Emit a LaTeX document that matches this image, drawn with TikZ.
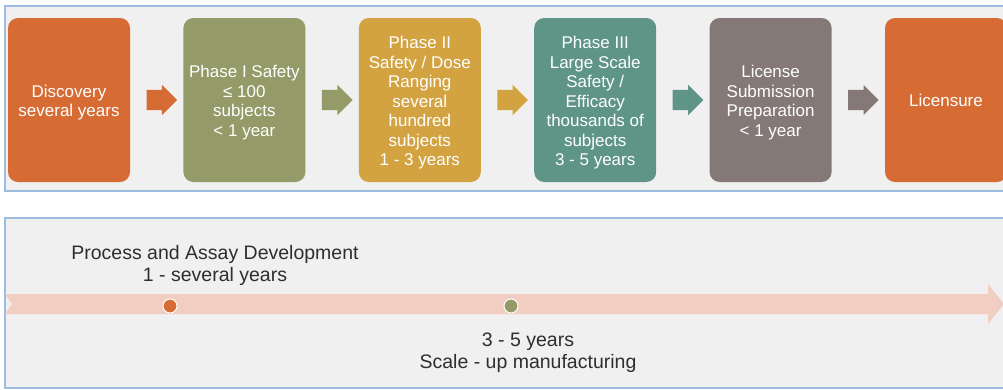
\documentclass[tikz,border=0pt]{standalone}
\usepackage{fontspec}
\setmainfont{Liberation Sans}
\usetikzlibrary{positioning,shapes.arrows,calc}

\definecolor{discovery}{HTML}{D66C33}
\definecolor{phaseone}{HTML}{949A68}
\definecolor{phasetwo}{HTML}{D3A342}
\definecolor{phasethree}{HTML}{5F9587}
\definecolor{license}{HTML}{847977}
\definecolor{panelgray}{HTML}{F0F0F0}
\definecolor{panelblue}{HTML}{9DBCE0}
\definecolor{band}{HTML}{F2CDC2}
\definecolor{notegray}{HTML}{2E2E2E}
\newcommand\phasestrut{\rule{0pt}{18pt}}

\begin{document}
\begin{tikzpicture}[x=1pt, y=-1pt, node distance=53pt,
  phase/.style={rectangle, rounded corners=10pt, minimum width=122pt, minimum height=164pt, inner sep=2pt, text=white, align=center, font=\fontsize{17}{19.5}\selectfont},
  flow/.style={single arrow, inner sep=10pt, single arrow head extend=5pt, minimum height=27pt},
  panel/.style={fill=panelgray, draw=panelblue, line width=1.5pt},
  dot/.style={circle, draw=white, line width=1pt, minimum size=14pt, inner sep=0pt},
  note/.style={text=notegray, align=center, font=\fontsize{19.5}{22}\selectfont}]
  \useasboundingbox (0,0) rectangle (1003,389);

  % panels
  \draw[panel] (5,6) rectangle (1012,191);
  \draw[panel] (5,218) rectangle (1012,388);

  % phases
  \node[phase, fill=discovery] (disc) at (69,100) {\phasestrut Discovery\\several years};
  \node[phase, fill=phaseone, right=of disc] (ph1) {\phasestrut Phase I Safety\\≤ 100\\subjects\\< 1 year};
  \node[phase, fill=phasetwo, right=of ph1] (ph2) {\phasestrut Phase II\\Safety / Dose\\Ranging\\several\\hundred\\subjects\\1 - 3 years};
  \node[phase, fill=phasethree, right=of ph2] (ph3) {\phasestrut Phase III\\Large Scale\\Safety /\\Efficacy\\thousands of\\subjects\\3 - 5 years};
  \node[phase, fill=license, right=of ph3] (lic) {\phasestrut License\\Submission\\Preparation\\< 1 year};
  \node[phase, fill=discovery, right=of lic] (licn) {Licensure};

  \node[flow, fill=discovery] (a1) at ($(disc.east)!0.5!(ph1.west)$) {};
  \node[flow, fill=phaseone] (a2) at ($(ph1.east)!0.5!(ph2.west)$) {};
  \node[flow, fill=phasetwo] (a3) at ($(ph2.east)!0.5!(ph3.west)$) {};
  \node[flow, fill=phasethree] (a4) at ($(ph3.east)!0.5!(lic.west)$) {};
  \node[flow, fill=license] (a5) at ($(lic.east)!0.5!(licn.west)$) {};

  % timeline
  \fill[band] (5,294) -- (988,294) -- (988,284) -- (1004,304) -- (988,324) -- (988,314) -- (5,314) -- (12,304) -- cycle;
  \node[dot, fill=discovery] (pad) at (170,306) {};
  \node[dot, fill=phaseone] (scale) at (511,306) {};
  \node[note] (padtext) at (215,265) {Process and Assay Development\\1 - several years};
  \node[note] (scaletext) at (528,353) {3 - 5 years\\Scale - up manufacturing};
\end{tikzpicture}
\end{document}
